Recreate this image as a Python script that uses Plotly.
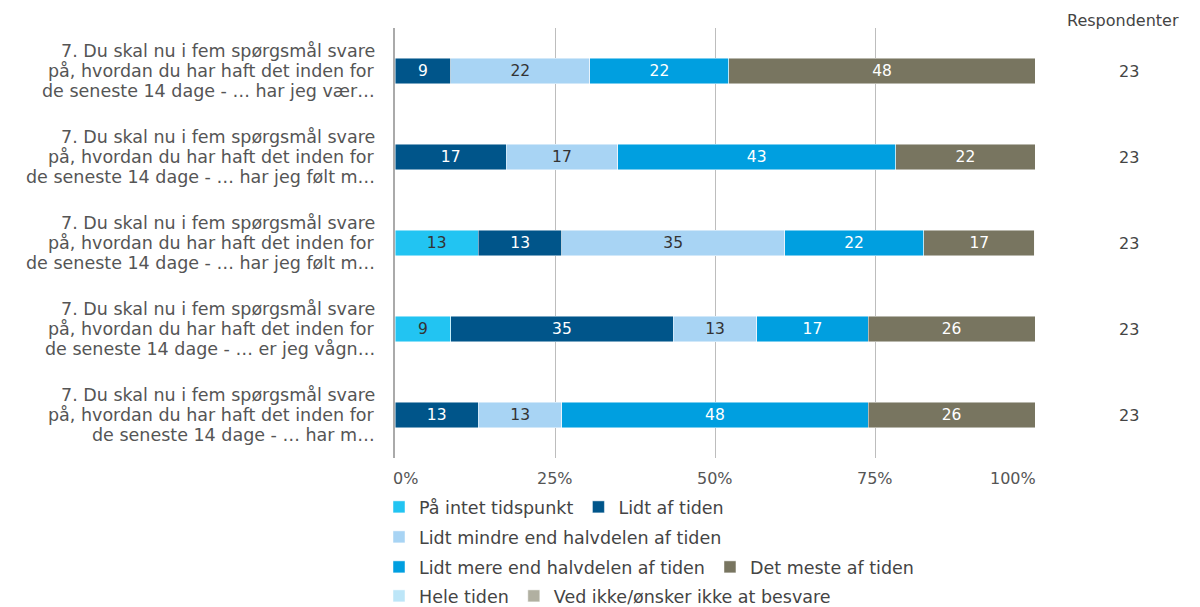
import plotly.graph_objects as go

rows = ["q1", "q2", "q3", "q4", "q5"]
label_line1 = ["7. Du skal nu i fem spørgsmål svare"] * 5
label_line2 = ["på, hvordan du har haft det inden for"] * 5
label_line3 = [
    "de seneste 14 dage - … har jeg vær…",
    "de seneste 14 dage - … har jeg følt m…",
    "de seneste 14 dage - … har jeg følt m…",
    "de seneste 14 dage - … er jeg vågn…",
    "de seneste 14 dage - … har m…",
]
respondents = [23, 23, 23, 23, 23]

categories = [
    "På intet tidspunkt",
    "Lidt af tiden",
    "Lidt mindre end halvdelen af tiden",
    "Lidt mere end halvdelen af tiden",
    "Det meste af tiden",
    "Hele tiden",
    "Ved ikke/ønsker ikke at besvare",
]
pa_intet = [0, 0, 13.04, 8.70, 0]
lidt_af = [8.70, 17.39, 13.04, 34.78, 13.04]
lidt_mindre = [21.74, 17.39, 34.78, 13.04, 13.04]
lidt_mere = [21.74, 43.48, 21.74, 17.39, 47.83]
det_meste = [47.83, 21.74, 17.39, 26.09, 26.09]
hele_tiden = [0, 0, 0, 0, 0]
ved_ikke = [0, 0, 0, 0, 0]
series = [pa_intet, lidt_af, lidt_mindre, lidt_mere, det_meste, hele_tiden, ved_ikke]

colors = ["#22C4F2", "#00558A", "#A8D4F4", "#009FE0", "#787560", "#BDE6F8", "#B1B0A1"]
text_colors = ["#333333", "#FFFFFF", "#333333", "#FFFFFF", "#FFFFFF", "#333333", "#333333"]
legend_ids = ["legend", "legend", "legend2", "legend3", "legend3", "legend4", "legend4"]

tick_vals = [0, 25, 50, 75, 100]
tick_text = ["0%", "25%", "50%", "75%", "100%"]

FONT = "DejaVu Sans"

fig = go.Figure()
for name, vals, col, tcol, lg in zip(categories, series, colors, text_colors, legend_ids):
    fig.add_trace(go.Bar(
        y=rows, x=vals, name=name, orientation="h",
        marker=dict(color=col, line=dict(color="rgba(255,255,255,0.6)", width=0.8)),
        text=[f"{v:.0f}" if v > 0 else "" for v in vals],
        textposition="inside", insidetextanchor="middle", textangle=0,
        textfont=dict(color=tcol, size=15.5, family=FONT),
        width=0.3, legend=lg, hoverinfo="skip",
    ))

anns = []
for r, l1, l2, l3, n in zip(rows, label_line1, label_line2, label_line3, respondents):
    for txt, ys in ((l1, 20), (l2, 0), (l3, -20)):
        anns.append(dict(x=0, y=r, xref="x", yref="y", text=txt, showarrow=False,
                         xanchor="right", yanchor="middle", align="right",
                         xshift=-18, yshift=ys,
                         font=dict(size=17.5, color="#555555", family=FONT)))
    anns.append(dict(x=1.147, y=r, xref="paper", yref="y", text=str(n), showarrow=False,
                     xanchor="center", yanchor="middle",
                     font=dict(size=16, color="#444444", family=FONT)))
anns.append(dict(x=1.1375, y=1.0, xref="paper", yref="paper", text="Respondenter",
                 showarrow=False, xanchor="center", yanchor="middle", yshift=8,
                 font=dict(size=16, color="#444444", family=FONT)))
for v, t in zip(tick_vals, tick_text):
    xa = "left" if v == 0 else ("right" if v == 100 else "center")
    xs = -4 if v == 0 else (3 if v == 100 else 0)
    anns.append(dict(x=v, y=0, xref="x", yref="paper", text=t, showarrow=False,
                     xanchor=xa, yanchor="middle", xshift=xs, yshift=-20,
                     font=dict(size=16, color="#555555", family=FONT)))

leg_common = dict(orientation="h", xanchor="left", yanchor="middle", x=-0.025,
                  font=dict(size=17.5, color="#444444", family=FONT),
                  bgcolor="rgba(0,0,0,0)", itemclick=False, traceorder="normal",
                  itemwidth=30)
h = 430.0
def ypx(px):
    return (458 - px) / h

fig.update_layout(
    width=1192, height=599,
    margin=dict(l=387, r=165, t=20, b=149, autoexpand=False),
    paper_bgcolor="white", plot_bgcolor="white",
    barmode="stack", showlegend=True,
    font=dict(family=FONT, color="#555555"),
    xaxis=dict(range=[0, 100], tickvals=tick_vals, showticklabels=False,
               showgrid=True, gridcolor="#BDBDBD", gridwidth=1, zeroline=False,
               showline=False, fixedrange=True),
    yaxis=dict(categoryorder="array", categoryarray=rows, autorange="reversed",
               showticklabels=False, showgrid=False, zeroline=False,
               showline=True, linecolor="#AAAAAA", linewidth=2, fixedrange=True),
    legend=dict(**leg_common, y=ypx(507)),
    legend2=dict(**leg_common, y=ypx(537)),
    legend3=dict(**leg_common, y=ypx(567)),
    legend4=dict(**leg_common, y=ypx(596)),
    annotations=anns,
)

fig.write_html("out.html")
